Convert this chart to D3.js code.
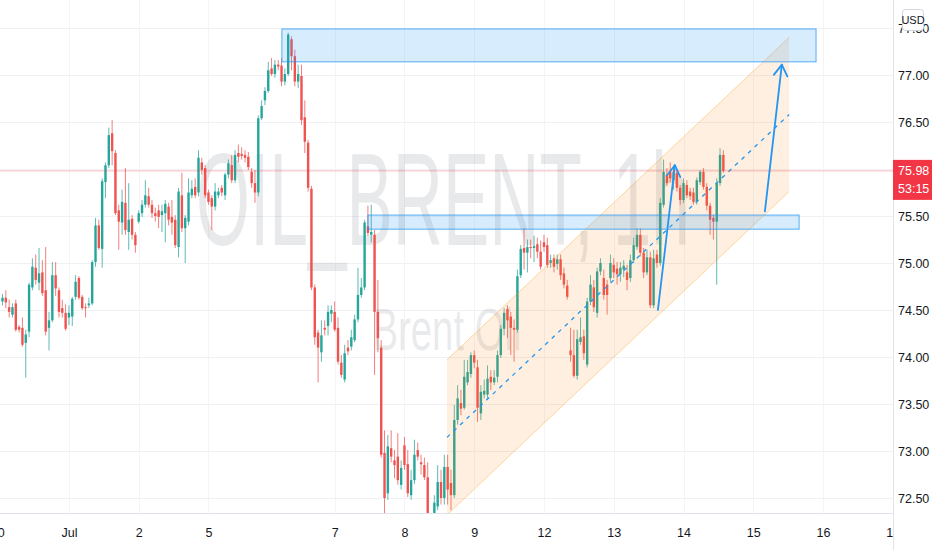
<!DOCTYPE html>
<html><head><meta charset="utf-8">
<script src="https://cdn.jsdelivr.net/npm/d3@7"></script>
<style>
body{margin:0;background:#fff;}
svg{display:block;font-family:"Liberation Sans Narrow","Liberation Sans",Arial,sans-serif;}
</style>
</head><body>
<svg id="c" width="932" height="550"></svg>
<script>
// ---- data (OIL_BRENT, 1h) ----
const opens = [74.59,74.63,74.53,74.45,74.57,74.32,74.31,74.15,74.27,74.74,74.95,74.79,74.90,74.71,74.31,74.39,74.87,74.71,74.52,74.47,
74.42,74.43,74.64,74.84,74.64,74.53,74.55,74.57,75.01,75.40,75.15,75.86,76.04,76.38,76.17,75.56,75.43,75.64,75.33,75.47,
75.30,75.44,75.53,75.62,75.71,75.62,75.53,75.56,75.51,75.53,75.60,75.49,75.46,75.17,75.72,75.37,75.44,75.72,75.81,75.75,
76.07,76.01,75.75,75.69,75.60,75.72,75.80,75.72,75.94,76.04,75.88,76.17,76.16,76.15,76.13,75.97,75.85,75.75,76.54,76.73,
76.83,77.07,77.01,77.11,77.10,76.93,77.01,77.38,77.20,76.93,76.99,76.55,76.28,75.79,74.74,74.26,74.05,74.31,74.33,74.46,
74.48,74.31,73.94,73.76,74.10,74.11,74.18,74.40,74.66,74.74,75.39,75.30,75.30,74.48,74.10,72.98,72.55,73.03,72.90,72.94,
72.64,73.06,72.86,72.53,72.69,73.01,72.88,72.85,72.72,72.27,72.32,72.41,72.67,72.50,72.83,72.66,72.53,73.33,73.51,73.46,
73.73,73.82,74.02,73.89,73.40,73.60,73.60,73.79,73.73,73.79,74.02,74.30,74.51,74.43,74.31,74.29,74.87,75.16,75.11,75.17,
75.16,75.20,75.12,75.22,75.19,75.00,75.05,74.99,75.04,74.89,74.76,74.07,74.02,73.80,74.16,74.22,73.92,74.59,74.74,74.47,
74.91,74.84,74.77,74.84,74.98,74.94,74.88,74.93,74.90,74.84,75.03,75.17,75.30,75.11,74.90,75.06,74.55,75.09,75.00,75.62,
75.94,75.97,75.88,75.96,75.80,75.67,75.83,75.76,75.75,75.65,75.86,75.97,75.81,75.61,75.48,75.44,75.85,76.15];
const highs = [74.67,74.71,74.61,74.57,74.61,74.34,74.42,74.29,74.79,75.05,75.09,75.16,75.03,75.17,74.48,75.01,75.01,74.74,74.61,74.56,
74.55,74.64,74.87,74.86,74.66,74.57,74.63,75.03,75.48,75.46,75.90,76.07,76.44,76.52,76.20,75.62,75.78,76.01,75.85,75.51,
75.33,75.56,75.67,75.88,75.80,75.67,75.59,75.62,75.62,75.67,75.64,75.67,75.51,75.80,75.96,75.51,75.90,75.88,75.90,76.20,
76.12,76.04,75.78,75.72,75.85,75.80,75.83,75.96,76.10,76.15,76.20,76.26,76.23,76.20,76.18,76.01,75.99,76.57,76.73,76.87,
77.14,77.18,77.16,77.16,77.18,77.07,77.45,77.41,77.27,77.11,77.11,76.73,76.31,75.82,74.77,74.29,74.39,74.39,74.55,74.55,
74.59,74.42,74.02,74.13,74.18,74.29,74.45,74.95,74.84,75.46,75.61,75.62,75.35,74.82,74.18,73.22,73.17,73.22,73.01,73.19,
72.90,73.15,73.01,72.80,73.12,73.09,72.96,72.93,72.88,72.32,72.53,72.85,72.80,72.96,72.96,72.80,73.49,73.70,73.65,73.97,
73.97,74.05,74.07,73.97,73.70,73.76,73.91,73.86,73.86,74.07,74.34,74.52,74.55,74.48,74.40,74.93,75.19,75.37,75.25,75.25,
75.29,75.27,75.24,75.30,75.27,75.09,75.09,75.09,75.09,74.95,74.82,74.31,74.29,74.29,74.42,74.29,74.63,74.87,74.82,74.95,
75.05,74.93,74.82,75.09,75.05,75.01,75.01,75.03,74.98,75.09,75.27,75.37,75.37,75.16,75.14,75.12,75.14,75.14,75.69,76.10,
76.01,76.07,76.04,75.99,75.83,75.90,75.88,75.80,75.80,75.91,75.99,76.01,75.85,75.64,75.51,75.90,76.22,76.20];
const lows = [74.55,74.52,74.42,74.42,74.27,74.26,74.11,73.78,74.21,74.71,74.77,74.71,74.65,74.23,74.07,74.37,74.65,74.42,74.42,74.28,
74.34,74.33,74.61,74.61,74.50,74.42,74.52,74.55,74.96,75.14,74.95,75.69,76.01,76.04,75.51,75.14,75.30,75.30,75.14,75.25,
75.11,75.42,75.49,75.59,75.59,75.48,75.44,75.37,75.33,75.22,75.40,75.30,75.16,75.06,75.33,75.00,75.40,75.69,75.69,75.71,
75.94,75.69,75.62,75.35,75.56,75.69,75.71,75.67,75.90,75.85,75.85,76.07,76.10,76.07,75.99,75.80,75.64,75.71,76.52,76.68,
76.81,76.99,76.97,77.05,76.88,76.89,76.99,77.05,76.88,76.86,76.47,76.17,75.76,74.71,74.13,73.73,73.95,74.23,74.23,74.37,
74.27,73.92,73.78,73.73,74.02,74.07,74.16,74.37,74.63,74.71,75.29,75.22,73.81,74.05,72.93,72.27,72.48,72.88,72.71,72.64,
72.59,72.80,72.51,72.48,72.65,72.90,72.75,72.69,72.21,72.15,72.27,72.37,72.43,72.43,72.43,72.37,72.50,73.28,73.38,73.44,
73.70,73.78,73.88,73.31,73.33,73.56,73.56,73.65,73.70,73.73,73.99,74.23,74.20,74.02,73.95,74.26,74.84,74.93,74.90,75.05,
75.01,75.05,74.93,75.12,74.95,74.95,74.90,74.93,74.82,74.73,74.61,73.95,73.78,73.76,74.13,73.97,73.89,74.55,74.48,74.42,
74.87,74.61,74.45,74.80,74.84,74.77,74.80,74.85,74.71,74.80,75.00,75.14,75.07,74.84,74.87,74.52,74.52,74.95,74.97,75.59,
75.82,75.86,75.78,75.76,75.62,75.64,75.69,75.67,75.62,75.62,75.83,75.78,75.56,75.30,75.25,74.77,75.82,75.96];
const closes = [74.63,74.58,74.48,74.53,74.29,74.29,74.13,74.24,74.77,74.96,74.82,74.89,74.68,74.27,74.39,74.87,74.73,74.48,74.47,74.30,
74.47,74.62,74.80,74.63,74.52,74.52,74.57,75.01,75.40,75.16,75.87,76.04,76.36,76.19,75.53,75.44,75.65,75.35,75.46,75.30,
75.19,75.53,75.62,75.72,75.62,75.53,75.50,75.49,75.55,75.63,75.46,75.43,75.19,75.76,75.37,75.48,75.75,75.79,75.72,76.12,
75.99,75.72,75.65,75.60,75.76,75.76,75.75,75.94,76.06,75.88,76.15,76.13,76.14,76.12,76.02,75.85,75.75,76.54,76.67,76.83,
77.05,77.01,77.11,77.09,76.93,77.01,77.43,77.20,76.93,77.01,76.52,76.29,75.80,74.74,74.21,74.10,74.23,74.29,74.48,74.50,
74.29,73.95,73.81,74.04,74.06,74.21,74.40,74.66,74.74,75.43,75.32,75.33,74.48,74.20,72.96,72.50,73.05,72.94,72.85,72.69,
72.82,72.85,72.55,72.69,72.96,72.94,72.86,72.72,72.27,72.22,72.45,72.67,72.50,72.83,72.59,72.53,73.33,73.56,73.45,73.79,
73.84,74.02,73.94,73.46,73.63,73.64,73.77,73.73,73.78,74.02,74.30,74.47,74.39,74.31,74.29,74.86,75.15,75.11,75.17,75.16,
75.18,75.12,74.96,75.17,74.98,75.03,74.96,75.04,74.87,74.77,74.64,74.02,73.80,74.19,74.21,74.04,74.59,74.77,74.53,74.91,
75.00,74.66,74.66,75.00,74.90,74.88,74.95,74.97,74.82,75.03,75.19,75.30,75.11,74.90,75.06,74.55,75.05,75.00,75.64,75.97,
75.85,75.90,75.97,75.80,75.67,75.85,75.72,75.71,75.65,75.88,75.97,75.81,75.61,75.46,75.44,75.85,76.15,75.98];

const priceTicks = [72.5,73,73.5,74,74.5,75,75.5,76,76.5,77,77.5];
const priceLabelTicks = [72.5,73,73.5,74,74.5,75,75.5,76.5,77,77.5];   // 76.00 sits under the last-price tag
const dayTickBars = [-1.6,20,41,62,100,121,142,163,184,205,226,247,268];
const dayTickLabels = ["30","Jul","2","5","7","8","9","12","13","14","15","16","17"];
const lastPrice = 75.98;
const countdown = "53:15";
const currency = "USD";
const watermark = ["OIL_BRENT, 1h","Brent Oil"];

// drawings (bar index / price)
const zoneUpper = [84.1, 244.9, 77.49, 77.14];
const zoneLower = [110.0, 239.8, 75.51, 75.36];
const channelBars = [133.8, 236.8];
const channelTop = [73.97, 77.40];
const channelBottom = [72.32, 75.76];
const arrowA = [197.3, 74.50, 202.4, 76.04];
const arrowB = [229.5, 75.55, 234.6, 77.11];

// ---- chart ----
const plotR = 893, plotB = 513;
const svg = d3.select("#c");
const x = d3.scaleLinear().domain([0, 268]).range([2.5, 2.5 + 3.322 * 268]);
const y = d3.scaleLinear().domain([72.5, 77]).range([498, 75]);

const defs = svg.append("defs");
defs.append("clipPath").attr("id","plot").append("rect").attr("x",0).attr("y",0).attr("width",plotR).attr("height",plotB);
defs.append("clipPath").attr("id","xlab").append("rect").attr("x",0).attr("y",plotB).attr("width",plotR).attr("height",550-plotB);

const grid = svg.append("g").attr("clip-path","url(#plot)");
grid.selectAll("line.h").data(priceTicks).join("line")
  .attr("x1",0).attr("x2",plotR)
  .attr("y1",d=>Math.round(y(d))+0.5).attr("y2",d=>Math.round(y(d))+0.5)
  .attr("stroke","#eff1f5").attr("stroke-width",1);
grid.selectAll("line.v").data(dayTickBars).join("line")
  .attr("x1",d=>Math.round(x(d))+0.5).attr("x2",d=>Math.round(x(d))+0.5)
  .attr("y1",0).attr("y2",plotB)
  .attr("stroke","#f3f4f7").attr("stroke-width",1);

// watermark (condensed with a horizontal scale so its box stays inside the plot)
const wm = svg.append("g").attr("fill","rgba(120,123,134,0.17)");
function wmText(str, cx, base, size, width){
  const g = wm.append("g");
  const t = g.append("text").attr("x",0).attr("y",0).attr("text-anchor","middle")
    .attr("font-family","Liberation Sans, Arial, sans-serif").attr("font-size",size).text(str);
  const natural = t.node().getComputedTextLength();
  g.attr("transform",`translate(${cx},${base}) scale(${width/natural},1)`);
}
wmText(watermark[0], 443, 245, 132, 494);
wmText(watermark[1], 447, 350, 60, 149);

// candles
const bars = opens.map((o,i)=>({i, o, h:highs[i], l:lows[i], c:closes[i]}));
const up = "#26a69a", dn = "#ef5350";
const cg = svg.append("g").attr("clip-path","url(#plot)");
cg.selectAll("line.w").data(bars).join("line")
  .attr("x1",d=>x(d.i)).attr("x2",d=>x(d.i))
  .attr("y1",d=>y(d.h)).attr("y2",d=>y(d.l))
  .attr("stroke",d=>d.c>=d.o?up:dn).attr("stroke-opacity",0.75).attr("stroke-width",1);
cg.selectAll("rect.b").data(bars).join("rect")
  .attr("x",d=>x(d.i)-1.2).attr("width",2.4)
  .attr("y",d=>y(Math.max(d.o,d.c)))
  .attr("height",d=>Math.max(1, Math.abs(y(d.o)-y(d.c))))
  .attr("fill",d=>d.c>=d.o?up:dn);

// drawings
const dg = svg.append("g").attr("clip-path","url(#plot)");
const chPts = [[channelBars[0],channelTop[0]],[channelBars[1],channelTop[1]],[channelBars[1],channelBottom[1]],[channelBars[0],channelBottom[0]]];
dg.append("polygon").attr("points",chPts.map(p=>[x(p[0]),y(p[1])].join(",")).join(" "))
  .attr("fill","rgba(245,124,0,0.12)").attr("stroke","none");
[channelTop, channelBottom].forEach(ln=>{
  dg.append("line").attr("x1",x(channelBars[0])).attr("y1",y(ln[0])).attr("x2",x(channelBars[1])).attr("y2",y(ln[1]))
    .attr("stroke","rgba(255,152,0,0.35)").attr("stroke-width",1);
});
dg.append("line").attr("x1",x(channelBars[0])).attr("y1",y((channelTop[0]+channelBottom[0])/2))
  .attr("x2",x(channelBars[1])).attr("y2",y((channelTop[1]+channelBottom[1])/2))
  .attr("stroke","#2196f3").attr("stroke-width",1.3).attr("stroke-dasharray","4 5");
[zoneUpper, zoneLower].forEach(z=>{
  dg.append("rect").attr("x",x(z[0])).attr("y",y(z[2])).attr("width",x(z[1])-x(z[0])).attr("height",y(z[3])-y(z[2]))
    .attr("fill","rgba(33,150,243,0.18)").attr("stroke","rgba(33,150,243,0.75)").attr("stroke-width",1);
});
[arrowA, arrowB].forEach(a=>{
  const x1=x(a[0]), y1=y(a[1]), x2=x(a[2]), y2=y(a[3]);
  dg.append("line").attr("x1",x1).attr("y1",y1).attr("x2",x2).attr("y2",y2)
    .attr("stroke","#2196f3").attr("stroke-width",1.8).attr("stroke-linecap","round");
  const ang = Math.atan2(y1-y2, x1-x2), len = 13, sp = 0.55;
  const p1 = [x2+len*Math.cos(ang+sp), y2+len*Math.sin(ang+sp)];
  const p2 = [x2+len*Math.cos(ang-sp), y2+len*Math.sin(ang-sp)];
  dg.append("polyline").attr("points",[p1,[x2,y2],p2].map(p=>p.join(",")).join(" "))
    .attr("fill","none").attr("stroke","#2196f3").attr("stroke-width",1.8).attr("stroke-linecap","round").attr("stroke-linejoin","round");
});

// last price line
svg.append("line").attr("x1",0).attr("x2",plotR).attr("y1",y(lastPrice)).attr("y2",y(lastPrice))
  .attr("stroke","rgba(242,54,69,0.35)").attr("stroke-width",1);

// axes frame
svg.append("line").attr("x1",0).attr("x2",plotR).attr("y1",plotB+0.5).attr("y2",plotB+0.5).attr("stroke","#e0e3eb");
svg.append("line").attr("x1",plotR+0.5).attr("x2",plotR+0.5).attr("y1",0).attr("y2",550).attr("stroke","#e0e3eb");

// price axis
const ya = svg.append("g").attr("transform",`translate(${plotR},0)`)
  .call(d3.axisRight(y).tickValues(priceLabelTicks).tickSize(0).tickPadding(5).tickFormat(d3.format(".2f")));
ya.select(".domain").remove();
ya.selectAll("text").attr("font-size",12.5).attr("fill","#131722").attr("font-family",null);

// time axis (wrapped so the clip rect is in page coordinates)
const xaWrap = svg.append("g").attr("clip-path","url(#xlab)");
const xa = xaWrap.append("g").attr("transform",`translate(0,${plotB})`)
  .call(d3.axisBottom(x).tickValues(dayTickBars).tickSize(0).tickPadding(15).tickFormat((d,i)=>dayTickLabels[i]));
xa.select(".domain").remove();
xa.selectAll("text").attr("font-size",12.5).attr("fill","#131722").attr("font-family",null);

// last price label
const ly = y(lastPrice);
svg.append("rect").attr("x",plotR).attr("y",ly-11).attr("width",932-plotR).attr("height",40).attr("fill","#f23645");
svg.append("text").attr("x",plotR+5).attr("y",ly).attr("dy","0.35em").attr("fill","#fff").attr("font-size",12.5).text(d3.format(".2f")(lastPrice));
svg.append("text").attr("x",plotR+5).attr("y",ly+18).attr("dy","0.35em").attr("fill","#fff").attr("font-size",12.5).text(countdown);

// currency box
svg.append("rect").attr("x",902.5).attr("y",9.5).attr("width",21).attr("height",21).attr("rx",3)
  .attr("fill","#fff").attr("stroke","#d1d4dc");
svg.append("text").attr("x",913).attr("y",20).attr("dy","0.35em").attr("text-anchor","middle")
  .attr("font-size",11).attr("fill","#131722").text(currency);
</script>
</body></html>
